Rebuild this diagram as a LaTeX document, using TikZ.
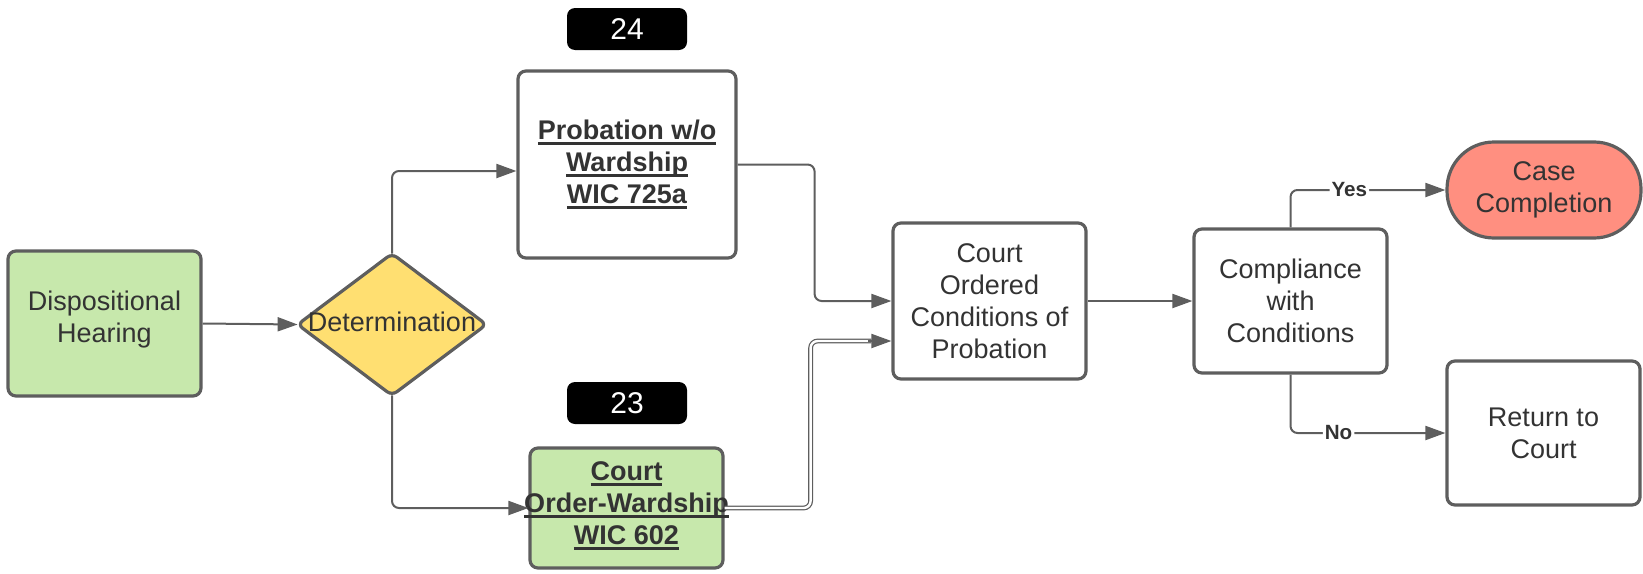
\documentclass[tikz,border=0pt]{standalone}
\usepackage{fontspec}
\setmainfont{Liberation Sans}
\usetikzlibrary{arrows.meta,calc}
\definecolor{ln}{HTML}{5E5E5E}
\definecolor{txt}{HTML}{333333}
\definecolor{grn}{HTML}{C7E8AC}
\definecolor{yel}{HTML}{FFDF71}
\definecolor{sal}{HTML}{FF8F80}
\newcommand{\myul}[1]{\setbox0\hbox{#1}\rlap{\rule[-2.8pt]{\wd0}{1.5pt}}\box0}
\tikzset{
  boxst/.style={draw=ln, line width=1.6pt, rounded corners=4pt, text=txt, align=center, inner sep=0pt,
    font=\fontsize{13.5}{16}\selectfont},
  badge/.style={fill=black, rounded corners=4pt, text=white, minimum width=60pt, minimum height=21pt,
    inner sep=0pt, font=\fontsize{15}{18}\selectfont},
  conn/.style={draw=ln, line width=1pt, rounded corners=3.5pt, -{Triangle[length=10pt,width=7pt]}},
  dbl/.style={draw=ln, line width=0.6pt, double=white, double distance=1.2pt, rounded corners=3.5pt},
  lbl/.style={fill=white, text=txt, inner sep=1pt, font=\bfseries\fontsize{10.3}{12}\selectfont},
}
\begin{document}
\begin{tikzpicture}[x=0.5pt,y=-0.5pt]
\useasboundingbox (0,0) rectangle (1643,573);

% nodes
\node[boxst, fill=grn, minimum width=96.5pt, minimum height=72.5pt] (disp) at (104.5,323.5) {Dispositional\\Hearing\vphantom{g}\\[-14pt]\strut};

\node[minimum width=94pt, minimum height=70.5pt, inner sep=0pt] (det) at (392,324.5) {};
\draw[fill=yel, draw=ln, line width=1.6pt, rounded corners=3pt] (det.west) -- (det.north) -- (det.east) -- (det.south) -- cycle;
\node[text=txt, font=\fontsize{13.5}{16}\selectfont, inner sep=0pt] (dettext) at ($(det.center)+(0,-3)$) {Determination};

\node[badge] (b24) at (627,29) {24};
\node[boxst, minimum width=109pt, minimum height=93.5pt, font=\bfseries\fontsize{13.5}{16}\selectfont] (prob) at (627,164.5)
  {\myul{Probation w/o}\\\myul{Wardship}\\\myul{WIC 725a}};

\node[badge] (b23) at (627,403) {23};
\node[boxst, fill=grn, minimum width=96.5pt, minimum height=60pt] (co) at (626.5,508) {};
\node[text=txt, align=center, inner sep=0pt, font=\bfseries\fontsize{13.5}{16}\selectfont] (cotext) at ($(co.center)+(0,-2)$)
  {\myul{Court}\\\myul{Order-Wardship}\\\myul{WIC 602}};

\node[boxst, minimum width=96.5pt, minimum height=78pt] (cc) at (989.5,301) {Court\\Ordered\\Conditions of\\Probation};
\node[boxst, minimum width=96.5pt, minimum height=72pt] (comp) at (1290.5,301) {Compliance\\with\\Conditions};
\node[boxst, fill=sal, minimum width=97pt, minimum height=48pt, rounded corners=23.5pt] (case) at (1544,190) {Case\\Completion};
\node[boxst, minimum width=96.5pt, minimum height=72pt] (ret) at (1543.5,433) {Return to\\Court};

% connectors
\draw[conn] (disp.east) -- (det.west);
\draw[conn] (det.north) |- ($(prob.west)+(0,6.5)$);
\draw[conn] (det.south) |- (co.west);
\draw[conn] (prob.east) -- ++(77,0) |- (cc.west);
\coordinate (cin2) at ($(cc.west)+(0,40)$);
\coordinate (cin2a) at ($(cin2)+(-20,0)$);
\coordinate (cin2b) at ($(cin2)+(-23,0)$);
\draw[dbl] (co.east) -- ++(86,0) |- (cin2a);
\draw[conn] (cin2b) -- (cin2);
\draw[conn] (cc.east) -- (comp.west);
\draw[conn] (comp.north) |- node[lbl, pos=0.69] {Yes} (case.west);
\draw[conn] (comp.south) |- node[lbl, pos=0.655] {No} (ret.west);
\end{tikzpicture}
\end{document}
